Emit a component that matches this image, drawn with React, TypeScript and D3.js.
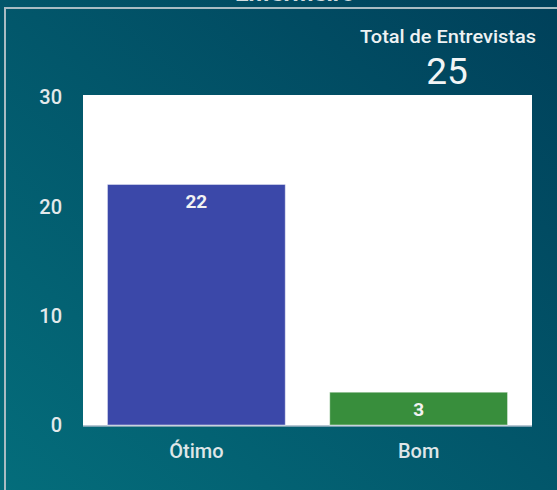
import React from "react";
import * as d3 from "d3";

const categories = ["Ótimo", "Bom"];
const values = [22, 3];
const barColors = ["#3b48a9", "#388e3c"];
const yTicks = [0, 10, 20, 30];
const totalLabel = "Total de Entrevistas";
const totalValue = 25;
const title = "Enfermeiro";

export default function App() {
  const W = 557, H = 490;
  const plot = { x0: 83, x1: 532, y0: 95, y1: 426 };
  const x = d3.scaleBand<string>().domain(categories).range([plot.x0, plot.x1]).paddingInner(0.2).paddingOuter(0.11);
  const y = d3.scaleLinear().domain([0, 30]).range([425, 97]);
  const font = "Roboto, 'Noto Sans', sans-serif";
  return (
    <div style={{ position: "absolute", left: 0, top: 0 }}>
      <svg width={W} height={H} style={{ display: "block" }}>
        <defs>
          <linearGradient id="bg" x1="0" y1="1" x2="1" y2="0">
            <stop offset="0" stopColor="#046d7b" />
            <stop offset="1" stopColor="#00405a" />
          </linearGradient>
        </defs>
        <rect x={0} y={0} width={W} height={H} fill="url(#bg)" />
        <text x={295} y={1} textAnchor="middle" fontFamily={font} fontWeight={700} fontSize={22} textLength={120} lengthAdjust="spacingAndGlyphs" fill="#d5dde0">{title}</text>
        <rect x={5} y={8} width={W + 10} height={H + 10} fill="none" stroke="#a9bcc3" strokeWidth={2} />
        <rect x={plot.x0} y={plot.y0} width={plot.x1 - plot.x0} height={plot.y1 - plot.y0} fill="#ffffff" />
        <line x1={plot.x0} x2={plot.x1} y1={426} y2={426} stroke="#9fb4c4" strokeWidth={1.5} />
        {yTicks.map((t) => (
          <text key={t} x={62} y={y(t)} dy="0.36em" textAnchor="end" fontFamily={font} fontWeight={500} fontSize={20} fill="#e3e9eb">{t}</text>
        ))}
        {categories.map((c, i) => (
          <g key={c}>
            <rect x={x(c)} y={y(values[i])} width={x.bandwidth()} height={y(0) - y(values[i])} fill={barColors[i]} stroke="rgba(255,255,255,0.45)" strokeWidth={1} />
            <text x={(x(c) as number) + x.bandwidth() / 2} y={y(values[i]) + 17} dy="0.36em" textAnchor="middle" fontFamily={font} fontWeight={700} fontSize={19} fill="#f2f2f2">{values[i]}</text>
            <text x={(x(c) as number) + x.bandwidth() / 2} y={451} dy="0.36em" textAnchor="middle" fontFamily={font} fontWeight={500} fontSize={20} fill="#dfe6e8">{c}</text>
          </g>
        ))}
        <text x={448} y={43} textAnchor="middle" fontFamily={font} fontWeight={500} fontSize={17.5} textLength={176} lengthAdjust="spacingAndGlyphs" fill="#eef2f3">{totalLabel}</text>
        <text x={447} y={84} textAnchor="middle" fontFamily={font} fontWeight={400} fontSize={37} fill="#f2f5f6">{totalValue}</text>
      </svg>
    </div>
  );
}
